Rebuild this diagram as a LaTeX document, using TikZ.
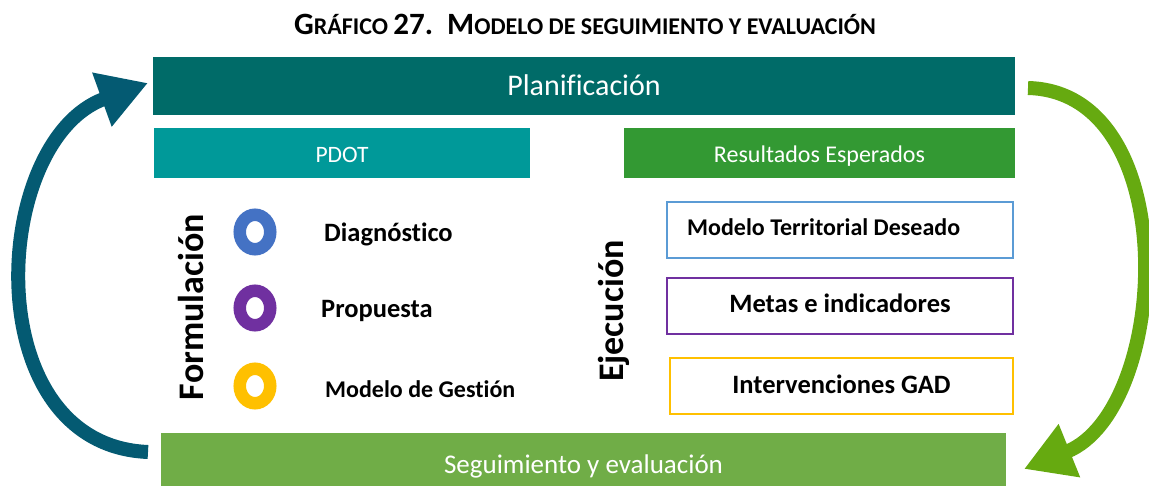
\documentclass[tikz,border=0pt]{standalone}
\usepackage{fontspec}
\setmainfont{Carlito}[Ligatures={NoCommon,NoRare}]
\usetikzlibrary{arrows.meta,shapes.geometric}
\definecolor{planteal}{HTML}{006B68}
\definecolor{pdotteal}{HTML}{009999}
\definecolor{resgreen}{HTML}{339933}
\definecolor{seggreen}{HTML}{70AD47}
\definecolor{arrowblue}{HTML}{045A72}
\definecolor{arrowgreen}{HTML}{66AA10}
\definecolor{ringblue}{HTML}{4472C4}
\definecolor{ringpurple}{HTML}{7030A0}
\definecolor{ringgold}{HTML}{FFC000}
\definecolor{boxblue}{HTML}{5B9BD5}
\newcommand{\titlebig}[1]{{\fontsize{31}{31}\selectfont #1}}
\newcommand{\titlesmall}[1]{{\fontsize{24}{24}\selectfont #1}}
\begin{document}
\begin{tikzpicture}[x=1pt,y=-1pt,line cap=butt,
  bar/.style={fill=#1,text=white,inner sep=0pt,text height=20pt,text depth=0pt},
  ring/.style={ellipse,draw=#1,line width=12.5pt,minimum width=30.5pt,minimum height=34.5pt,inner sep=0pt},
  item/.style={font=\bfseries\fontsize{26.5}{26.5}\selectfont,anchor=base west,inner sep=0pt},
  phase/.style={font=\bfseries\fontsize{36}{36}\selectfont,rotate=90,anchor=base,inner sep=0pt},
  ejebox/.style={draw=#1,line width=2.5pt,minimum width=346pt,minimum height=56pt,inner sep=0pt,
    text height=14pt,text depth=0pt,font=\bfseries\fontsize{26.5}{26.5}\selectfont},
  cycarrow/.style={draw=#1,line width=14pt,-{Triangle[length=49pt,width=54pt]}}]
  \useasboundingbox (0,0) rectangle (1149,486);
  % title
  \node[font=\bfseries,anchor=base,inner sep=0pt] (title) at (585,35)
    {\titlebig{G}\titlesmall{RÁFICO\ }\titlebig{27.\ \ M}\titlesmall{ODELO DE SEGUIMIENTO Y EVALUACIÓN}};
  % bars
  \node[bar=planteal,minimum width=862pt,minimum height=58pt,font=\fontsize{30}{30}\selectfont] (plan) at (584,86) {Planificación};
  \node[bar=pdotteal,minimum width=376pt,minimum height=50pt,font=\fontsize{23.5}{23.5}\selectfont] (pdot) at (342,153) {PDOT};
  \node[bar=resgreen,minimum width=391pt,minimum height=50pt,font=\fontsize{24}{24}\selectfont] (res) at (819.5,153) {Resultados Esperados};
  \node[bar=seggreen,minimum width=845pt,minimum height=56pt,text height=25pt,font=\fontsize{27}{27}\selectfont] (seg) at (583.5,461) {Seguimiento y evaluación};
  % formulacion
  \node[phase] (form) at (203,307) {Formulación};
  \node[ring=ringblue] (rdiag) at (255,232) {};
  \node[ring=ringpurple] (rprop) at (255,308) {};
  \node[ring=ringgold] (rgest) at (255,386) {};
  \node[item] (diag) at (324,242) {Diagnóstico};
  \node[item] (prop) at (321,318) {Propuesta};
  \node[item,font=\bfseries\fontsize{24}{24}\selectfont] (gest) at (325,397) {Modelo de Gestión};
  % ejecucion
  \node[phase] (ejec) at (623,311) {Ejecución};
  \node[ejebox=boxblue] (mtd) at (840,230) {};
  \node[font=\bfseries\fontsize{24}{24}\selectfont,anchor=base west,inner sep=0pt] (mtdtext) at (687,236) {Modelo Territorial Deseado};
  \node[ejebox=ringpurple] (metas) at (840,306) {Metas e indicadores};
  \node[ejebox=ringgold,minimum width=343pt] (inter) at (841.5,386) {Intervenciones GAD};
  % cycle arrows
  \coordinate (lfrom) at (148,452);
  \coordinate (lto) at (148,83);
  \coordinate (rfrom) at (1028,88);
  \coordinate (rto) at (1024,469);
  \draw[cycarrow=arrowblue] (lfrom) .. controls (-25,445) and (-10,140) .. (lto);
  \draw[cycarrow=arrowgreen] (rfrom) .. controls (1185,92) and (1170,410) .. (rto);
\end{tikzpicture}
\end{document}
